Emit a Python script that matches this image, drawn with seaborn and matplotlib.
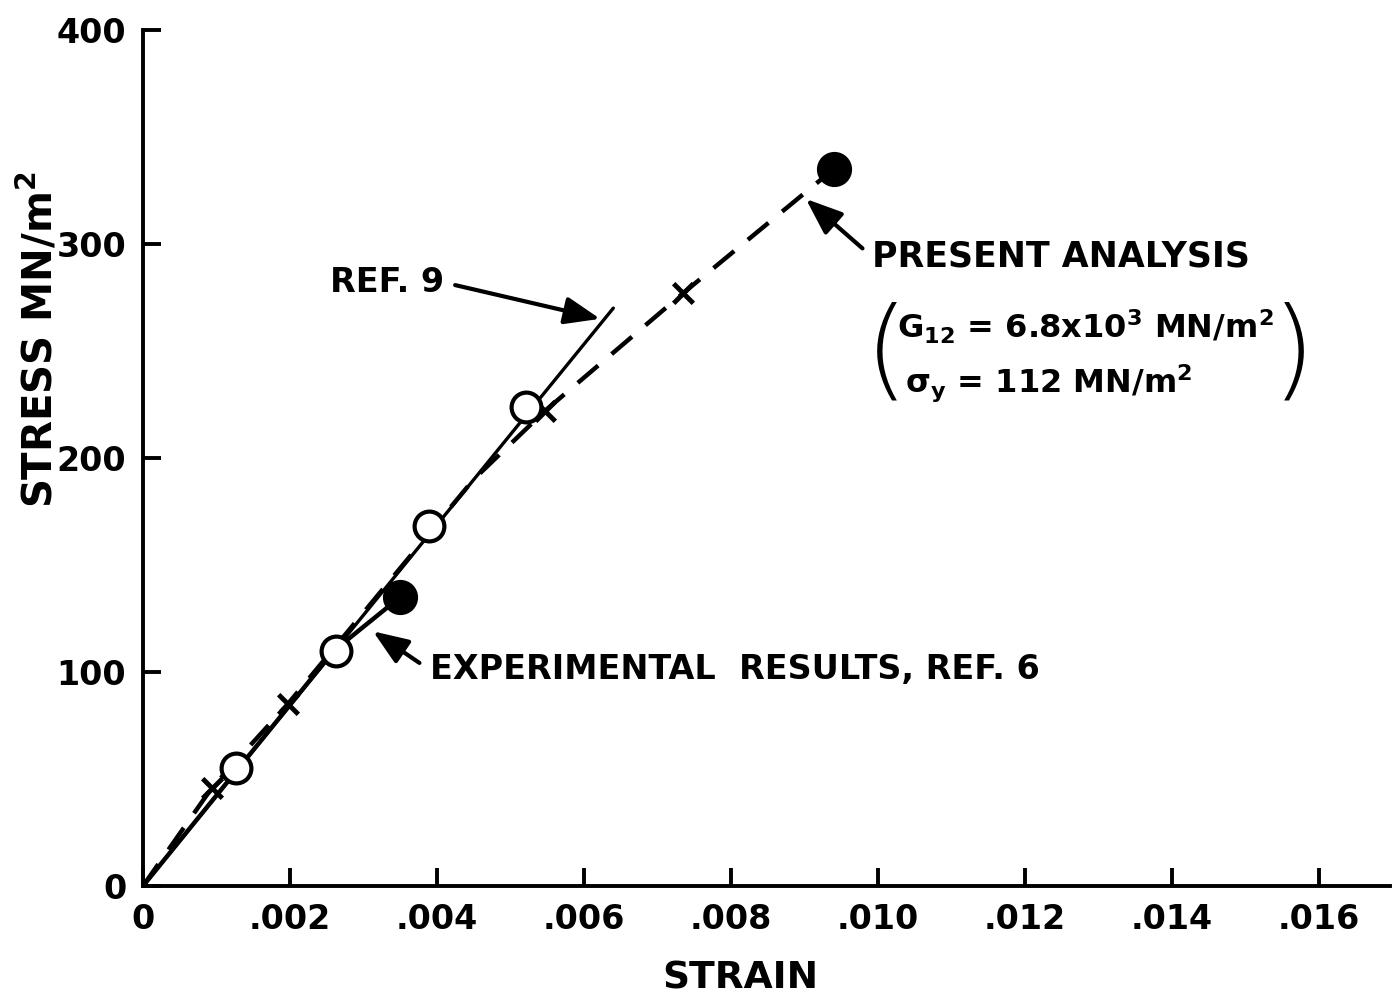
import matplotlib
matplotlib.use("Agg")
import matplotlib.pyplot as plt
import seaborn as sns
import pandas as pd

# values
ref9_strain = [0.0, 0.0064]
ref9_stress = [0.0, 270.0]

circle_strain = [0.00126, 0.00263, 0.00389, 0.00521]
circle_stress = [55.0, 110.0, 168.0, 224.0]

exp_strain = [0.0, 0.0026, 0.0035]
exp_stress = [0.0, 110.0, 135.0]

present_strain = [0.0, 0.00094, 0.00197, 0.0045, 0.00547, 0.00735, 0.0094]
present_stress = [0.0, 46.0, 85.0, 190.0, 222.0, 277.0, 335.0]
cross_strain = [0.00094, 0.00197, 0.00547, 0.00735]
cross_stress = [46.0, 85.0, 222.0, 277.0]

x_ticks = [0, 0.002, 0.004, 0.006, 0.008, 0.010, 0.012, 0.014, 0.016]
x_labels = ["0", ".002", ".004", ".006", ".008", ".010", ".012", ".014", ".016"]
y_ticks = [0, 100, 200, 300, 400]
y_labels = ["0", "100", "200", "300", "400"]

sns.set_style("ticks", {"axes.edgecolor": "black", "text.color": "black",
                        "xtick.color": "black", "ytick.color": "black"})
plt.rcParams["font.family"] = ["DejaVu Sans"]
plt.rcParams["mathtext.default"] = "bf"

fig = plt.figure(figsize=(13.92, 9.99), dpi=100)
ax = fig.add_axes([0.1027, 0.1131, 0.896, 0.857])

# Ref. 9 straight line
sns.lineplot(x=ref9_strain, y=ref9_stress, ax=ax, color="black", lw=2.4)
# experimental results
sns.lineplot(x=exp_strain, y=exp_stress, ax=ax, color="black", lw=3.2, sort=False)
# present analysis (dashed)
sns.lineplot(x=present_strain, y=present_stress, ax=ax, color="black", lw=3.2,
             sort=False, linestyle=(0, (6, 4)))
sns.scatterplot(x=cross_strain, y=cross_stress, ax=ax, marker="x", s=200,
                color="black", linewidth=3.5, zorder=4)
sns.scatterplot(x=circle_strain, y=circle_stress, ax=ax, s=460, facecolor="white",
                edgecolor="black", linewidth=3, zorder=5)
sns.scatterplot(x=[exp_strain[-1], present_strain[-1]],
                y=[exp_stress[-1], present_stress[-1]], ax=ax, s=550,
                color="black", edgecolor="black", zorder=5)

ax.set_xlim(0, 0.01697)
ax.set_ylim(0, 400)
ax.set_xticks(x_ticks)
ax.set_xticklabels(x_labels)
ax.set_yticks(y_ticks)
ax.set_yticklabels(y_labels)
ax.tick_params(direction="in", length=13, width=2.8, labelsize=24, pad=12,
               colors="black")
for lab in ax.get_xticklabels() + ax.get_yticklabels():
    lab.set_fontweight("bold")
sns.despine(ax=ax)
for side in ["left", "bottom"]:
    ax.spines[side].set_linewidth(2.8)
ax.set_xlabel("")
ax.set_ylabel("")

fig.text(0.532, 0.003, "STRAIN", ha="center", va="bottom", fontsize=27, fontweight="bold")
fig.text(0.028, 0.66, "STRESS MN/m$^2$", rotation=90, ha="center", va="center",
         fontsize=29, fontweight="bold")

def arrow(rx):
    return dict(arrowstyle="-|>,head_length=0.9,head_width=0.35", color="black", lw=3,
                relpos=(rx, 0.5), shrinkA=6, shrinkB=0)

ax.annotate("REF. 9", xy=(0.00622, 265), xytext=(0.00254, 282), fontsize=24,
            fontweight="bold", va="center", arrowprops=arrow(1.0))
ax.annotate("PRESENT ANALYSIS", xy=(0.00902, 321), xytext=(0.00992, 294), fontsize=25,
            fontweight="bold", va="center", arrowprops=arrow(0.0))
ax.annotate("EXPERIMENTAL  RESULTS, REF. 6", xy=(0.00313, 119), xytext=(0.0039, 101),
            fontsize=24, fontweight="bold", va="center", arrowprops=arrow(0.0))

ax.text(0.00982, 248, "(", fontsize=80, va="center", ha="left", fontweight="light")
ax.text(0.01595, 248, ")", fontsize=80, va="center", ha="right", fontweight="light")
ax.text(0.01026, 261, "G$_{12}$ = 6.8x10$^3$ MN/m$^2$", fontsize=23,
        fontweight="bold", va="center")
ax.text(0.01037, 235, r"$\sigma_y$ = 112 MN/m$^2$", fontsize=23,
        fontweight="bold", va="center")

fig.savefig("out.png", dpi=100)
